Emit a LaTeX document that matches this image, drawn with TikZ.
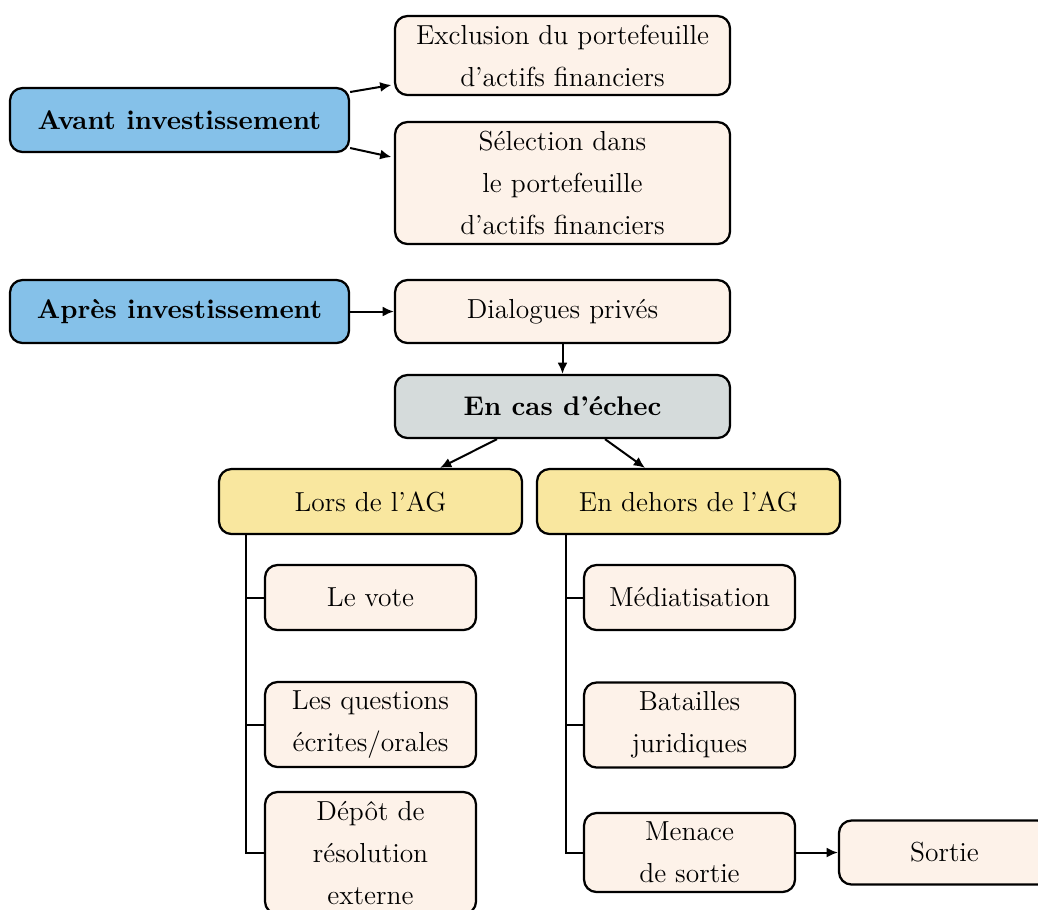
\documentclass[tikz,border=0pt]{standalone}
\usetikzlibrary{arrows.meta}
\definecolor{cblue}{HTML}{85C1E9}
\definecolor{cbeige}{HTML}{FDF2E9}
\definecolor{cgrey}{HTML}{D5DBDB}
\definecolor{cyellow}{HTML}{F9E79F}
\tikzset{
  box/.style={draw, line width=0.9pt, rounded corners=5pt, align=center, inner sep=0pt,
    font=\fontsize{11}{16.8}\selectfont},
  blue/.style={box, fill=cblue, minimum width=135.6pt, font=\fontsize{10.8}{16.8}\selectfont\bfseries},
  beige/.style={box, fill=cbeige},
  grey/.style={box, fill=cgrey, minimum width=134pt, font=\fontsize{10.8}{16.8}\selectfont\bfseries},
  yellow/.style={box, fill=cyellow, minimum width=121.2pt},
  wide/.style={minimum width=134pt},
  small/.style={minimum width=84.4pt},
  arr/.style={-{Latex[length=4.5pt,width=4pt]}, line width=0.8pt},
  tree/.style={line width=0.8pt}
}
\begin{document}
\begin{tikzpicture}[x=0.4pt,y=-0.4pt]
\useasboundingbox (0,0) rectangle (1038,909);
\node[blue, minimum height=25.6pt] (avant) at (179.5,120) {Avant investissement};
\node[beige, wide, minimum height=31.6pt] (excl) at (562.5,55.5) {Exclusion du portefeuille\\d’actifs financiers};
\node[beige, wide, minimum height=48.8pt] (sel) at (562.5,183) {Sélection dans\\le portefeuille\\d’actifs financiers};
\node[blue, minimum height=25.2pt] (apres) at (179.5,311.5) {Après investissement};
\node[beige, wide, minimum height=25.2pt] (dial) at (562.5,311.5) {Dialogues privés};
\node[grey, minimum height=25.2pt] (echec) at (562.5,406.5) {En cas d’échec};
\node[yellow, minimum height=26pt] (lors) at (370.5,501.5) {Lors de l’AG};
\node[yellow, minimum height=26pt] (dehors) at (688.5,501.5) {En dehors de l’AG};
\node[beige, small, minimum height=26pt] (vote) at (370.5,597.5) {Le vote};
\node[beige, small, minimum height=34pt] (quest) at (370.5,724.5) {Les questions\\écrites/orales};
\node[beige, small, minimum height=48.8pt] (depot) at (370.5,853) {Dépôt de\\résolution\\externe};
\node[beige, small, minimum height=26pt] (media) at (689.5,597.5) {Médiatisation};
\node[beige, small, minimum height=34pt] (bat) at (689.5,725) {Batailles\\juridiques};
\node[beige, small, minimum height=31.6pt] (menace) at (689.5,852.5) {Menace\\de sortie};
\node[beige, small, minimum height=25.6pt] (sortie) at (944.5,852.5) {Sortie};

\draw[arr] ([yshift=11.2pt]avant.east) -- ([xshift=-1pt,yshift=-11.8pt]excl.west);
\draw[arr] ([yshift=-11.2pt]avant.east) -- ([xshift=-1pt,yshift=10.4pt]sel.west);
\draw[arr] (apres.east) -- (dial.west);
\draw[arr] (dial.south) -- (echec.north);
\draw[arr] ([xshift=-26.2pt]echec.south) -- ([xshift=27.8pt]lors.north);
\draw[arr] ([xshift=17pt]echec.south) -- ([xshift=-17.4pt]dehors.north);
\draw[arr] (menace.east) -- (sortie.west);

\coordinate (lt) at ([xshift=11.2pt]lors.south west);
\coordinate (rt) at ([xshift=12pt]dehors.south west);
\draw[tree] (lt) |- (vote.west);
\draw[tree] (lt) |- (quest.west);
\draw[tree] (lt) |- (depot.west);
\draw[tree] (rt) |- (media.west);
\draw[tree] (rt) |- (bat.west);
\draw[tree] (rt) |- (menace.west);
\end{tikzpicture}
\end{document}
